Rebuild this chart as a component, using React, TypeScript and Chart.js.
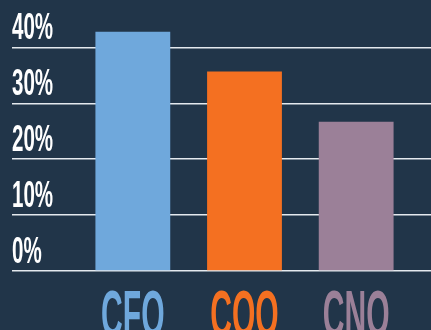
import React, { useEffect, useRef } from "react";
import { Chart, registerables } from "chart.js";

Chart.register(...registerables);

const categories = ["CFO", "COO", "CNO"];
const values = [42.8, 35.7, 26.7];
const barColors = ["#6fa8dc", "#f47021", "#9b8098"];
const yTicks = [0, 10, 20, 30, 40];
const yTickLabels = ["0%", "10%", "20%", "30%", "40%"];

const FONT = '"Liberation Sans", Arial, sans-serif';
const GRID = "#e4e9ee";

function drawSqueezed(
  ctx: CanvasRenderingContext2D,
  text: string,
  x: number,
  y: number,
  sx: number,
  align: CanvasTextAlign
) {
  ctx.save();
  ctx.translate(x, y);
  ctx.scale(sx, 1);
  ctx.textAlign = align;
  ctx.textBaseline = "alphabetic";
  ctx.fillText(text, 0, 0);
  ctx.restore();
}

const labelPlugin = {
  id: "condensedLabels",
  afterDraw(chart: any) {
    const ctx: CanvasRenderingContext2D = chart.ctx;
    const yScale = chart.scales.y;
    const xScale = chart.scales.x;
    ctx.save();
    ctx.fillStyle = "#ffffff";
    ctx.font = `bold 36px ${FONT}`;
    yTicks.forEach((v, i) => {
      const py = yScale.getPixelForValue(v);
      drawSqueezed(ctx, yTickLabels[i], 12, py - 8.5, 0.57, "left");
    });
    ctx.font = `bold 64px ${FONT}`;
    categories.forEach((c, i) => {
      const px = xScale.getPixelForValue(i);
      ctx.fillStyle = barColors[i];
      drawSqueezed(ctx, c, px, chart.chartArea.bottom + 65, 0.47, "center");
    });
    ctx.restore();
  },
};

export default function App() {
  const ref = useRef<HTMLCanvasElement | null>(null);
  useEffect(() => {
    document.body.style.margin = "0";
    if (!ref.current) return;
    const chart = new Chart(ref.current, {
      type: "bar",
      data: {
        labels: categories,
        datasets: [
          {
            data: values,
            backgroundColor: barColors,
            borderWidth: 0,
            categoryPercentage: 1,
            barPercentage: 0.67,
          },
        ],
      },
      options: {
        animation: false,
        responsive: false,
        maintainAspectRatio: false,
        layout: { padding: { left: 12, right: 0, top: 0, bottom: 0 } },
        plugins: {
          legend: { display: false },
          tooltip: { enabled: false },
        },
        scales: {
          x: {
            grid: { display: false },
            border: { display: false },
            ticks: { display: false },
            afterFit: (s: any) => {
              s.height = 59;
            },
          },
          y: {
            position: "left",
            min: 0,
            max: 48.5,
            z: 1,
            ticks: { display: false, stepSize: 10, includeBounds: false },
            border: { display: false },
            grid: {
              color: GRID,
              lineWidth: 1.5,
              drawTicks: true,
              tickLength: 65,
            },
            afterFit: (s: any) => {
              s.width = 65;
            },
          },
          y2: {
            position: "right",
            min: 0,
            max: 48.5,
            z: 1,
            ticks: { display: false, stepSize: 10, includeBounds: false },
            border: { display: false },
            grid: {
              color: GRID,
              lineWidth: 1.5,
              drawOnChartArea: false,
              drawTicks: true,
              tickLength: 19,
            },
            afterFit: (s: any) => {
              s.width = 19;
            },
          },
        },
      },
      plugins: [labelPlugin],
    });
    return () => chart.destroy();
  }, []);
  return (
    <div
      style={{
        position: "absolute",
        left: 0,
        top: 0,
        width: 431,
        height: 330,
        background: "#213549",
      }}
    >
      <canvas ref={ref} width={431} height={330} style={{ display: "block" }} />
    </div>
  );
}
